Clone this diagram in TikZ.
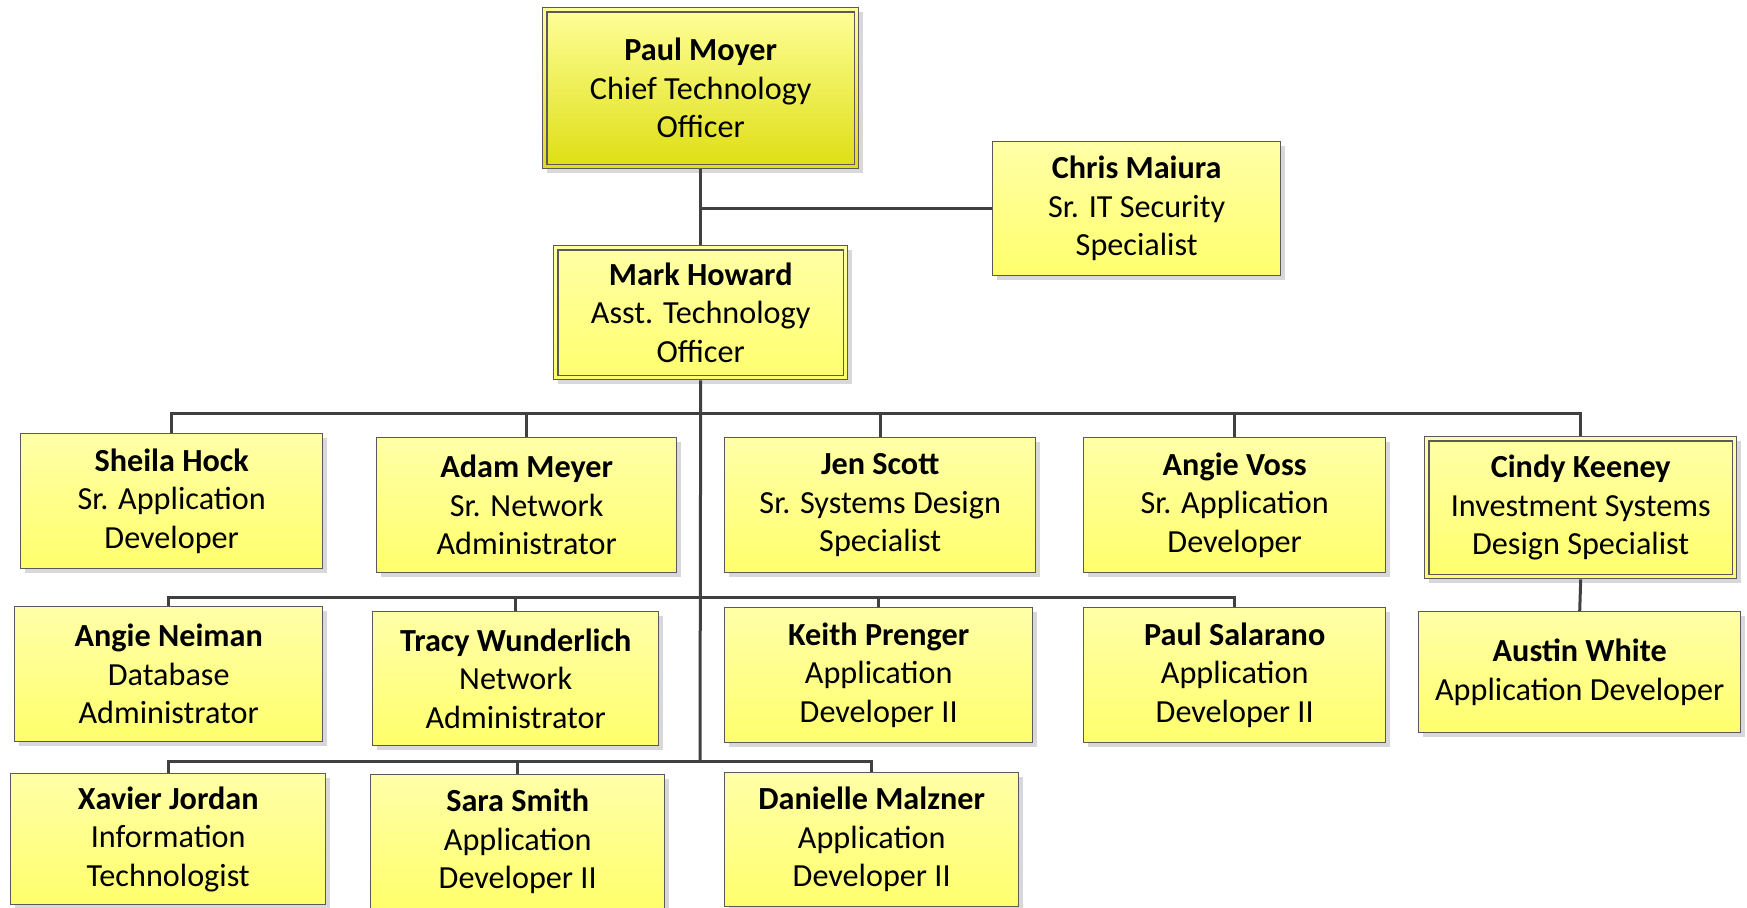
\documentclass[tikz,border=0pt]{standalone}
\usepackage{fontspec}
\setmainfont{Carlito}
\usetikzlibrary{shadows}
\definecolor{ylTop}{HTML}{FFFFA8}
\definecolor{ylBot}{HTML}{FFFF6C}
\definecolor{gyBot}{HTML}{DEDE12}
\definecolor{gyTop}{HTML}{FFFF9A}
\definecolor{edge}{HTML}{5A5A5A}
\definecolor{wire}{HTML}{404040}
\tikzset{
  person/.style={draw=edge, line width=1.4pt, rectangle, inner sep=0pt, anchor=north west,
    top color=ylTop, bottom color=ylBot, align=center,
    font=\fontsize{32.2}{38.5}\selectfont,
    drop shadow={shadow xshift=4pt, shadow yshift=-4pt, fill=black!30, opacity=0.5}},
  chief/.style={person, top color=gyTop, bottom color=gyBot},
  inner/.style={draw=edge, line width=1.2pt},
  conn/.style={draw=wire, line width=3pt}
}
\begin{document}
\begin{tikzpicture}[x=1pt,y=-1pt]
\useasboundingbox (0,0) rectangle (1747,907);
% boxes
\node[chief, minimum width=316pt, minimum height=161pt] (pm) at (542,7) {\textbf{Paul Moyer}\\Chief Technology\\Officer};
\node[person, minimum width=288pt, minimum height=134pt] (cm) at (992,141) {\textbf{Chris Maiura}\\Sr. IT Security\\Specialist};
\node[person, minimum width=294pt, minimum height=134pt] (mh) at (553,245) {\textbf{Mark Howard}\\Asst. Technology\\Officer};
% row 1
\node[person, minimum width=302pt, minimum height=135pt] (sh) at (20,433) {\textbf{Sheila Hock}\\Sr. Application\\Developer};
\node[person, minimum width=300pt, minimum height=135pt] (am) at (376,437) {\textbf{Adam Meyer}\\Sr. Network\\Administrator};
\node[person, minimum width=311pt, minimum height=135pt] (js) at (724,437) {\textbf{Jen Scott}\\Sr. Systems Design\\Specialist};
\node[person, minimum width=302pt, minimum height=135pt] (av) at (1083,437) {\textbf{Angie Voss}\\Sr. Application\\Developer};
\node[person, minimum width=312pt, minimum height=142pt] (ck) at (1424,436) {\textbf{Cindy Keeney}\\Investment Systems\\Design Specialist};
% row 2
\node[person, minimum width=308pt, minimum height=135pt] (an) at (14,606) {\textbf{Angie Neiman}\\Database\\Administrator};
\node[person, minimum width=286pt, minimum height=134pt] (tw) at (372,611) {\textbf{Tracy Wunderlich}\\Network\\Administrator};
\node[person, minimum width=308pt, minimum height=135pt] (kp) at (724,607) {\textbf{Keith Prenger}\\Application\\Developer II};
\node[person, minimum width=302pt, minimum height=135pt] (ps) at (1083,607) {\textbf{Paul Salarano}\\Application\\Developer II};
\node[person, minimum width=322pt, minimum height=121pt] (aw) at (1418,611) {\textbf{Austin White}\\Application Developer};
% row 3
\node[person, minimum width=315pt, minimum height=131pt] (xj) at (10,773) {\textbf{Xavier Jordan}\\Information\\Technologist};
\node[person, minimum width=294pt, minimum height=134pt] (ss) at (370,774) {\textbf{Sara Smith}\\Application\\Developer II};
\node[person, minimum width=294pt, minimum height=134pt] (dm) at (724,772) {\textbf{Danielle Malzner}\\Application\\Developer II};
% double borders
\draw[inner] ([xshift=5pt,yshift=-5pt]pm.north west) rectangle ([xshift=-5pt,yshift=5pt]pm.south east);
\draw[inner] ([xshift=5pt,yshift=-5pt]mh.north west) rectangle ([xshift=-5pt,yshift=5pt]mh.south east);
\draw[inner] ([xshift=5pt,yshift=-5pt]ck.north west) rectangle ([xshift=-5pt,yshift=5pt]ck.south east);
% bus coordinates
\coordinate (b1) at (700,413);
\coordinate (b2) at (700,597);
\coordinate (b3) at (700,761);
% connectors
\draw[conn] (pm.south) -- (mh.north);
\draw[conn] (cm.west) -- (cm.west -| pm.south);
\draw[conn] (mh.south) -- (b3);
\draw[conn] (sh.north) -- (sh.north |- b1) -- (ck.north |- b1) -- (ck.north);
\draw[conn] (am.north) -- (am.north |- b1);
\draw[conn] (js.north) -- (js.north |- b1);
\draw[conn] (av.north) -- (av.north |- b1);
\draw[conn] (an.north) -- (an.north |- b2) -- (ps.north |- b2) -- (ps.north);
\draw[conn] (tw.north) -- (tw.north |- b2);
\draw[conn] (kp.north) -- (kp.north |- b2);
\draw[conn] (xj.north) -- (xj.north |- b3) -- (dm.north |- b3) -- (dm.north);
\draw[conn] (ss.north) -- (ss.north |- b3);
\draw[conn] (ck.south) -- (aw.north);
\end{tikzpicture}
\end{document}
